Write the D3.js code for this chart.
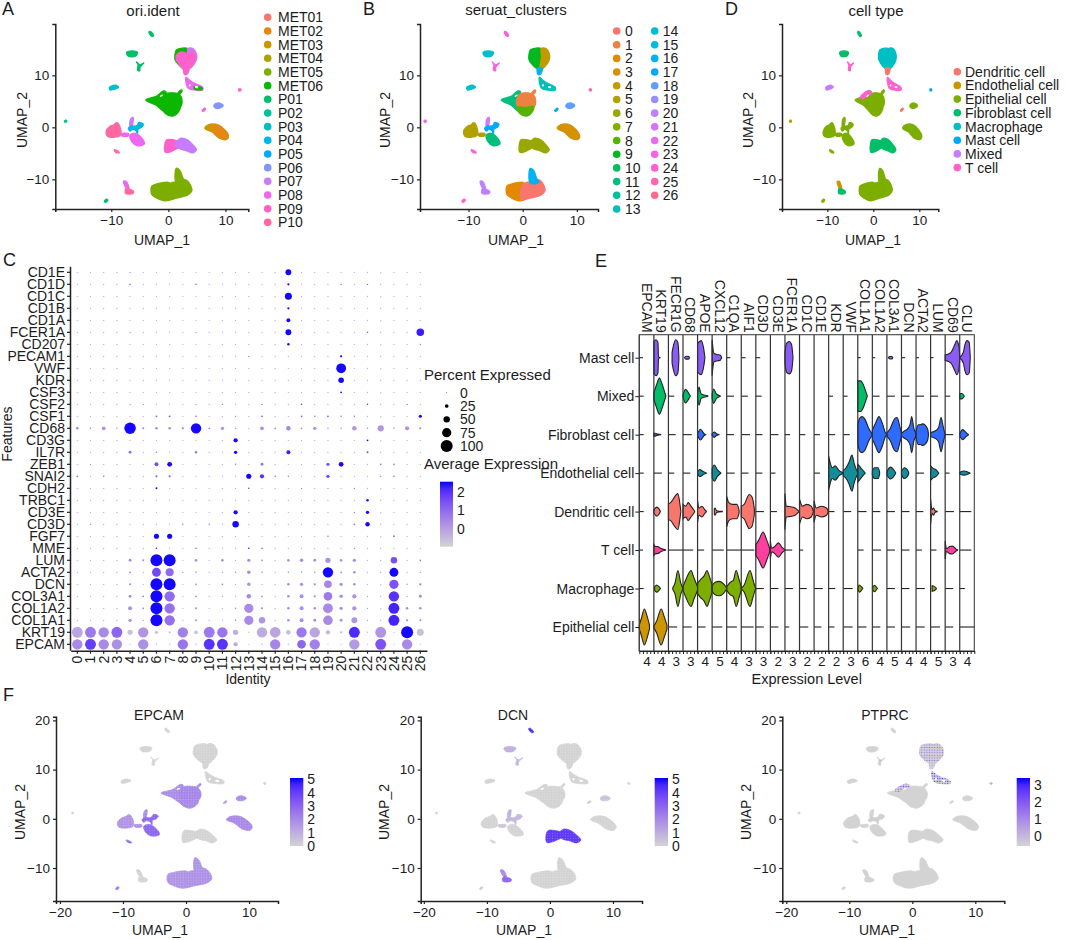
<!DOCTYPE html>
<html>
<head>
<meta charset="utf-8">
<script src="https://cdn.jsdelivr.net/npm/d3@7"></script>
<style>
body { margin: 0; background: #fff; }
svg text { font-family: "Liberation Sans", Arial, sans-serif; fill: #1c1c1c; }
.domain, .tick line { stroke: #222; }
</style>
</head>
<body>
<div id="vis"></div>
<script>
// legends
var oriIdents = ["MET01","MET02","MET03","MET04","MET05","MET06","P01","P02","P03","P04","P05","P06","P07","P08","P09","P10"];
var oriColours = ["#F8766D","#E68613","#CD9600","#ABA300","#7CAE00","#0CB702","#00BE67","#00C19A","#00BFC4","#00B8E7","#00A9FF","#8494FF","#C77CFF","#ED68ED","#FF61CC","#FF68A1"];
var clusterColours = ["#F8766D","#EE8042","#E38900","#D59100","#C49A00","#B0A100","#99A800","#7FAE00","#53B400","#00B81F","#00BD5F","#00BF7D","#00C19C","#00C0B8","#00BECF","#00BAE0","#00B2F3","#00A9FF","#619CFF","#9590FF","#BC81FF","#D575FE","#E76BF3","#F564E3","#FD61D1","#FF65B2","#FF6C91"];
var cellTypes = ["Dendritic cell","Endothelial cell","Epithelial cell","Fibroblast cell","Macrophage","Mast cell","Mixed","T cell"];
var cellTypeColours = ["#F8766D","#CD9600","#7CAE00","#00BE67","#00BFC4","#00A9FF","#C77CFF","#FF61CC"];

var islandOutlines = [
  [[1.16,13.9],[1.45,14.9],[3.4,15.1],[3.5,13.5],[3.3,11.2],[2.5,11.4],[1.6,12.3],[1.16,13.1]],
  [[3.4,15.1],[4.24,15.2],[4.94,14],[4.9,13],[4.36,12],[3.5,11.2],[3.2,11.4],[3.5,13.5]],
  [[1.4,13.8],[2.4,14.5],[3.3,14.2],[4.2,14.7],[4.75,13.6],[4.4,12.3],[3.4,11.1],[2.6,11.2],[1.8,12.3],[1.4,13]],
  [[2.75,11.4],[3.6,11.4],[3.25,10.2],[2.8,10.2]],
  [[3.1,9.6],[3.8,9],[4.5,8.5],[6,7.7],[6,7.2],[4.4,7.2],[3.5,7.5],[3.1,8.6]],
  [[4.5,7.8],[5.9,7.6],[5.9,7.3],[4.6,7.4]],
  [[-3.95,5.25],[-2.03,6],[-0.87,7],[-0.4,6.8],[-0.7,5.8],[-0.8,4.5],[-0.6,3],[-1.2,3.4],[-2.2,4.3]],
  [[1.7,6.6],[2.3,7.2],[2.4,7],[1.9,6.3]],
  [[-1.1,5.4],[-0.4,6.5],[0.9,6.6],[1.9,6.3],[2.4,5],[2,3.8],[0.2,3.4],[-0.9,3.9]],
  [[-1,3.9],[0.5,3.8],[2,4],[1.8,3],[0.9,2.2],[0,2.3],[-0.8,3]],
  [[-2.8,5.8],[-0.9,7.1],[-0.4,6.5],[-0.9,6.3],[-2.4,5.5]],
  [[8,4.3],[8.7,4.7],[9.6,4.2],[9,3.7],[8.1,3.8]],
  [[-10.9,-0.8],[-10.2,0.2],[-9.6,0.45],[-9,0.9],[-8.4,-0.2],[-8.4,-1.5],[-9.6,-1.9],[-10.7,-1.65]],
  [[-6.7,0.2],[-6.6,1.6],[-6.2,1.9],[-6.2,0.9],[-6.4,0.2]],
  [[-7,-0.2],[-6.4,0.3],[-6,0.2],[-5.4,0.4],[-5.2,0.9],[-4.4,0.6],[-4.7,0],[-5.3,-0.3],[-5.4,-1.2],[-5.7,-0.6],[-6.3,-0.4],[-6.7,-0.7]],
  [[-8.3,-1.3],[-7,-1.2],[-7,-1.6],[-8,-1.7]],
  [[-6.7,-1.5],[-5.8,-1.15],[-4.65,-2.1],[-4.2,-3.2],[-5.5,-3.5],[-6.4,-2.75]],
  [[-9.5,-4.3],[-8.8,-4.6],[-8.6,-4.9],[-9.2,-4.8]],
  [[-0.6,-3.2],[-0.3,-2.4],[0.9,-2.4],[1.7,-2.7],[2.1,-3.6],[1.1,-4.3],[0.3,-4.7],[-0.5,-4.8]],
  [[1.3,-3.2],[2.2,-2.1],[3.3,-2.4],[4.3,-3.4],[4.9,-4.3],[4.2,-4.9],[3.2,-4.5],[2,-4.1]],
  [[6.4,-0.2],[7,0.45],[8.7,0.45],[10.5,-1.5],[10.2,-2.3],[9,-2.1],[7.6,-0.85]],
  [[7.9,0.2],[8.7,0.3],[10.3,-1.5],[10,-2.1],[9,-1.9]],
  [[-2.9,-11.3],[-2,-10.9],[0,-10.6],[0.5,-11],[0.5,-13.7],[-0.6,-14.1],[-2,-13.6],[-2.9,-12.9]],
  [[-0.2,-11.6],[0.5,-10.7],[1.4,-10.5],[2.5,-10],[3.2,-10.2],[3.9,-11.2],[4.1,-12.2],[3.4,-13],[1.4,-13.6],[-0.2,-13.9]],
  [[1.4,-7.9],[2,-8.3],[2.6,-9.9],[3,-10.6],[1.4,-10.7]],
  [[-3.4,18.3],[-3.1,18.4],[-2.6,17.6],[-2.9,17.5]],
  [[-7.3,14.4],[-6.4,14.7],[-5.4,14.4],[-5.8,13.7],[-7,13.7]],
  [[-5.6,12.6],[-5,12],[-4.3,12.4],[-5,11.5],[-5,10.9],[-5.4,11],[-5.3,12]],
  [[-10.3,7.7],[-9.3,8.1],[-8.7,7.7],[-9.6,7.3],[-10.2,7.2]],
  [[12.3,7.3],[12.6,7.4],[12.7,7.1],[12.4,7]],
  [[5.9,3.2],[6.4,3.7],[6.5,3.5],[6.1,3.1]],
  [[-18.2,1.2],[-17.9,1.4],[-17.8,1.1],[-18.1,1]],
  [[-7.85,-10.4],[-7.4,-10.4],[-6.9,-11.8],[-7.3,-11.8]],
  [[-7.4,-11.8],[-6.1,-12.3],[-6.2,-12.7],[-7.5,-12.7]],
  [[-11.2,-14.2],[-10.8,-13.8],[-10.6,-14],[-11,-14.4]]
];
// gaps inside the islands
var islandHoles = [
  [[4.7,7.9],[5.2,7.85],[5.2,7.55],[4.7,7.6]],
  [[3.6,8.2],[3.9,8.25],[3.85,7.9],[3.6,7.9]],
  [[-1.5,6],[-1,6.3],[-0.95,6.1],[-1.4,5.85]]
];
// per island: sample, cluster, cell type (null = not drawn in that panel)
var islandOri = ["MET06","P07","P09","P09","P08","MET06","MET06","MET06","MET06","MET06",null,"P06","P10","P07","P04","P08","P08","P10","P09","P07","MET03","MET02","MET05","MET05","MET05","P01","P01","P01","P03","P09","P08","P02","P08","P10","P01"];
var islandCluster = [9,4,null,16,13,null,11,1,1,8,null,18,5,21,17,5,11,24,6,6,3,null,2,0,16,24,14,23,14,25,17,23,20,20,24];
var islandType = [4,4,null,0,7,null,2,2,2,2,7,2,2,2,2,2,2,2,3,3,2,null,2,2,2,3,3,7,6,5,0,1,1,3,2];
var islandEpcam = [0,0,null,0,0,null,1.9,1.9,2.1,2,null,2,1.7,1.9,3,1.9,3,2.8,0,0,2,null,1.7,1.8,1.7,0,0,0,0,0,1.5,0,0,0,2.5];
var islandDcn = [0,0,null,0,0,null,0,0,0,0,null,0.5,0,1,0.8,0.4,0,0,4.2,4.2,0,null,0,0,0,4.5,1,0.9,0,0,0.3,0,2,3,0.2];
var islandPtprc = [1.1,1.1,null,0.6,2,null,0,0,0,0,1.6,0,0,0,0.2,0,0,0,0,0,0,null,0,0,0,0,0,0.3,0,1.4,0,0,0,0,0];

// dot plot
var dotGenes = ["CD1E","CD1D","CD1C","CD1B","CD1A","FCER1A","CD207","PECAM1","VWF","KDR","CSF3","CSF2","CSF1","CD68","CD3G","IL7R","ZEB1","SNAI2","CDH2","TRBC1","CD3E","CD3D","FGF7","MME","LUM","ACTA2","DCN","COL3A1","COL1A2","COL1A1","KRT19","EPCAM"];
var dotClusters = d3.range(27).map(String);
// the faint specks everywhere else
var dotFaintPercent = 4;
var dotFaintExpression = 0;
// [cluster, percent expressed, average expression]
var dotReadings = [
  ["CD1E",[[4,3,1],[16,45,2.5]]],
  ["CD1D",[[4,6,1.5],[9,5,1.5],[16,12,2.5],[20,4,1.5],[22,4,1.5]]],
  ["CD1C",[[16,55,2.5]]],
  ["CD1B",[[16,12,2.5]]],
  ["CD1A",[[16,27,2.5]]],
  ["FCER1A",[[4,3,1],[9,3,1],[16,45,2.5],[22,5,1.5],[26,60,2.3]]],
  ["CD207",[[16,14,2.5],[26,3,1.5]]],
  ["PECAM1",[[13,4,1.2],[20,12,2.5]]],
  ["VWF",[[20,80,2.5]]],
  ["KDR",[[20,42,2.5]]],
  ["CSF3",[[20,8,2.5]]],
  ["CSF2",[[4,3,1],[5,3,1],[9,3,1],[11,4,1],[14,4,1.5],[17,5,2],[22,5,2],[25,4,1.5]]],
  ["CSF1",[[6,8,1.2],[7,8,1.5],[9,5,1.5],[12,4,1],[14,8,1.3],[17,8,1.2],[18,5,1],[19,8,1.3],[20,5,1],[21,5,1],[26,20,2.5]]],
  ["CD68",[[0,14,0.6],[1,5,0.7],[2,25,0.3],[3,5,0.5],[4,95,2.5],[5,10,0.5],[6,15,0.4],[7,15,0.4],[8,12,0.5],[9,85,2.5],[10,8,0.5],[11,22,0.3],[12,4,0.5],[14,25,0.3],[15,8,0.5],[16,32,0.5],[17,8,0.5],[18,22,0.3],[19,5,0.5],[20,5,0.5],[21,32,0.2],[22,5,0.5],[23,48,0.2],[24,5,0.5],[25,30,0.2],[26,12,0.3]]],
  ["CD3G",[[12,30,2.5],[22,8,2.5]]],
  ["IL7R",[[4,18,0.9],[6,5,0.9],[9,14,0.8],[12,22,2.5],[16,28,2.3],[22,10,1.5]]],
  ["ZEB1",[[1,3,0.5],[6,27,1.6],[7,35,2.5],[12,5,0.8],[14,18,0.8],[19,22,1.3],[20,35,2.5],[23,8,0.8],[24,7,0.8]]],
  ["SNAI2",[[0,8,1],[2,6,1],[6,12,1],[7,12,1],[13,38,2.5],[14,30,2],[15,6,1],[16,5,0.8],[19,22,1.6],[23,4,0.8],[24,6,1.3]]],
  ["CDH2",[[6,9,2.5],[13,5,2],[17,3,1],[19,4,1],[21,4,1]]],
  ["TRBC1",[[22,14,2.5]]],
  ["CD3E",[[12,30,2.5],[21,4,1],[22,22,2.5]]],
  ["CD3D",[[1,4,0.8],[8,5,0.8],[10,5,0.8],[12,50,2.5],[21,8,1],[22,32,2.5]]],
  ["FGF7",[[6,38,2.5],[7,38,2.5],[19,6,1],[24,10,1]]],
  ["MME",[[6,5,2.5],[9,5,1.5],[13,5,2.5],[14,5,1.8],[21,3,1]]],
  ["LUM",[[4,18,0.4],[5,10,0.5],[6,100,2.5],[7,100,2.5],[9,16,0.4],[11,14,0.5],[13,20,0.4],[14,8,0.5],[16,16,0.3],[17,24,0.3],[18,18,0.3],[19,40,0.3],[20,16,0.3],[21,22,0.3],[23,4,0.5],[24,50,1.5],[25,3,0.5],[26,7,0.8]]],
  ["ACTA2",[[4,8,0.7],[6,72,1.6],[7,65,1],[8,4,0.5],[9,5,0.5],[11,4,0.5],[12,5,0.5],[13,24,0.4],[14,6,0.5],[16,5,0.5],[17,5,0.5],[18,5,0.5],[19,85,2.5],[20,8,0.5],[21,14,0.5],[23,3,0.5],[24,72,2.5],[26,3,0.5]]],
  ["DCN",[[4,9,0.7],[6,100,2.5],[7,100,2.5],[9,7,0.6],[11,8,0.6],[13,24,0.3],[14,3,0.5],[16,14,0.5],[17,22,0.3],[18,12,0.5],[19,60,0.5],[20,22,0.3],[21,14,0.4],[24,75,1.4],[25,5,0.5],[26,12,0.7]]],
  ["COL3A1",[[4,16,0.6],[5,7,0.8],[6,100,2.5],[7,85,1],[9,7,0.6],[11,4,0.5],[13,32,0.4],[14,8,0.6],[16,14,0.5],[17,28,0.3],[18,12,0.4],[19,70,0.7],[20,24,0.3],[21,30,0.3],[22,3,0.5],[24,85,2],[25,4,0.5],[26,18,0.5]]],
  ["COL1A2",[[4,28,0.3],[5,7,0.8],[6,100,2.5],[7,85,0.9],[9,9,0.6],[12,5,0.6],[13,75,0.4],[14,10,0.6],[16,14,0.5],[17,28,0.3],[18,14,0.4],[19,80,0.4],[20,22,0.3],[21,30,0.3],[22,4,0.5],[24,90,2.2],[25,14,0.5],[26,14,0.5]]],
  ["COL1A1",[[4,22,0.3],[5,3,0.6],[6,100,2.5],[7,85,0.9],[9,9,0.6],[12,5,0.6],[13,75,0.4],[14,50,0.2],[16,14,0.5],[17,28,0.3],[18,18,0.4],[19,78,0.4],[20,18,0.3],[21,45,0.2],[22,3,0.5],[24,90,2.2],[25,12,0.4],[26,10,0.4]]],
  ["KRT19",[[0,90,-0.1],[1,90,0.7],[2,85,0.4],[3,90,1.1],[4,38,-0.6],[5,85,0.2],[6,22,-0.7],[7,12,-0.6],[8,85,0.6],[9,25,-0.6],[10,90,0.7],[11,85,0.8],[12,40,-0.3],[13,5,-0.5],[14,85,-0.2],[15,88,-0.1],[16,35,-0.6],[17,85,0.7],[18,85,-0.1],[19,30,-0.4],[20,12,-0.3],[21,90,2.1],[22,6,-0.3],[23,90,0.2],[24,3,-0.3],[25,100,2.5],[26,55,-0.6]]],
  ["EPCAM",[[0,85,0.4],[1,90,1.8],[2,85,0.4],[3,85,0.3],[4,2,-0.3],[5,85,0.3],[6,5,-0.4],[7,4,-0.4],[8,85,0.8],[9,5,-0.4],[10,90,2],[11,90,2],[12,30,-0.2],[13,1,-0.3],[14,5,-0.3],[15,85,0.5],[16,5,-0.4],[17,70,1.1],[18,85,0.6],[19,2,-0.3],[20,3,-0.3],[21,85,0.1],[22,1,-0.3],[23,90,1.4],[24,2,-0.3],[25,85,0.4],[26,2,-0.3]]]
];
var percentLegend = [0,25,50,75,100];

// stacked violins
var violinRows = ["Mast cell","Mixed","Fibroblast cell","Endothelial cell","Dendritic cell","T cell","Macrophage","Epithelial cell"];
var violinRowColours = ["#8A5CF5","#00BE67","#2F6BFF","#138D9A","#F8766D","#FF3FA0","#7CAE00","#CD9600"];
var violinGenes = ["EPCAM","KRT19","FECR1G","CD68","APOE","CXCL12","C1QA","AIF1","CD3D","CD3E","FCER1A","CD1C","CD1E","KDR","VWF","COL1A1","COL1A2","COL3A1","DCN","ACTA2","LUM","CD69","CLU"];
var violinMaxLevel = [4,4,3,3,4,5,4,3,3,2,3,2,2,2,3,6,4,5,4,4,5,3,4];
// how far the flat zero line runs in each empty cell, as share of the column
var violinTails = [
  [.25,0,0,.25,0,0,.25,.3,.3,0,0,0,0,0,0,.2,.2,.3,.25,.2,.2,0,0],
  [.3,0,.4,0,0,0,.5,.45,.4,0,0,0,0,.3,.3,0,.5,.55,.55,.55,.5,.35,0],
  [.3,0,.5,.6,0,0,.5,.6,.45,.55,.35,.4,.4,.45,.45,0,0,0,0,0,0,.55,0],
  [.3,.55,.4,.5,0,0,.55,.5,.45,.35,0,0,.4,0,0,0,0,0,0,.55,0,.3,0],
  [.3,0,0,0,0,0,0,0,.55,.45,0,0,0,.4,.55,.6,.55,.55,.55,.5,0,.6,.8],
  [.25,0,1,.7,.45,.8,1,.9,0,0,.5,.25,0,0,0,.4,.6,.55,.55,.4,.4,0,.8],
  [.3,0,0,0,0,0,0,0,.55,.55,.55,.5,.6,.45,.65,0,0,.55,.55,.6,0,.55,.35],
  [0,0,.6,.6,.55,.7,.7,.85,.55,.55,.3,.6,.5,.4,.65,.6,.55,.55,.6,.6,.65,.55,1]
];
// [row, column gene, [[share of column, density], ...]]
var violinCells = [
  ["Mast cell","KRT19",[[0,.9],[.15,1],[.28,.85],[.32,.05],[.45,0]]],
  ["Mast cell","FECR1G",[[.25,.3],[.35,.7],[.5,1],[.65,.85],[.72,.05]]],
  ["Mast cell","CD68",[[.1,0],[.2,.08],[.38,.08],[.45,0]]],
  ["Mast cell","APOE",[[0,.8],[.25,.95],[.42,.5],[.5,.05]]],
  ["Mast cell","CXCL12",[[0,1],[.12,.25],[.3,.18],[.55,.15],[.65,.02]]],
  ["Mast cell","FCER1A",[[0,.3],[.1,.8],[.3,.9],[.45,.75],[.55,.05]]],
  ["Mast cell","COL3A1",[[.1,0],[.2,.07],[.35,.07],[.4,0]]],
  ["Mast cell","CD69",[[0,.15],[.4,.3],[.65,.7],[.8,.95],[.95,.6],[1,.05]]],
  ["Mast cell","CLU",[[0,.02],[.25,.3],[.35,.7],[.5,.95],[.65,.85],[.72,.05]]],
  ["Mixed","KRT19",[[0,.2],[.15,.55],[.38,1],[.55,.7],[.75,.2],[.82,.02]]],
  ["Mixed","CD68",[[0,.05],[.17,.38],[.4,.15],[.5,.01]]],
  ["Mixed","APOE",[[0,.1],[.1,.5],[.25,.12],[.7,.02]]],
  ["Mixed","CXCL12",[[0,.1],[.1,.4],[.3,.12],[.55,.02]]],
  ["Mixed","COL1A1",[[0,.85],[.2,.85],[.4,.6],[.55,.25],[.65,.02]]],
  ["Mixed","CLU",[[0,.15],[.15,.15],[.3,.02]]],
  ["Fibroblast cell","KRT19",[[0,.08],[.1,.08],[.25,.03],[.5,0]]],
  ["Fibroblast cell","APOE",[[0,.05],[.2,.3],[.45,.05],[.55,0]]],
  ["Fibroblast cell","CXCL12",[[0,.05],[.15,.15],[.3,.05],[.5,0]]],
  ["Fibroblast cell","COL1A1",[[0,.5],[.12,.9],[.3,1],[.5,.85],[.75,.35],[.95,.08],[1,.02]]],
  ["Fibroblast cell","COL1A2",[[0,.25],[.2,.6],[.45,1],[.7,.6],[.9,.1],[1,.02]]],
  ["Fibroblast cell","COL3A1",[[0,.1],[.2,.3],[.55,.9],[.7,.95],[.9,.4],[1,.1]]],
  ["Fibroblast cell","DCN",[[0,.08],[.2,.2],[.45,.35],[.6,.6],[.7,1],[.85,.35],[1,.1]]],
  ["Fibroblast cell","ACTA2",[[0,.2],[.15,.55],[.3,.55],[.45,.6],[.6,.55],[.8,.3],[.85,.05]]],
  ["Fibroblast cell","LUM",[[0,.12],[.3,.2],[.55,.4],[.72,.95],[.85,.5],[.97,.1],[1,.02]]],
  ["Fibroblast cell","CLU",[[0,.05],[.2,.28],[.45,.1],[.6,.01]]],
  ["Endothelial cell","APOE",[[0,.05],[.15,.2],[.35,.1],[.6,.01]]],
  ["Endothelial cell","CXCL12",[[0,.25],[.15,.45],[.35,.2],[.6,.01]]],
  ["Endothelial cell","KDR",[[0,.95],[.1,.6],[.25,.3],[.45,.4],[.7,.15],[.95,.03]]],
  ["Endothelial cell","VWF",[[0,.15],[.2,.3],[.4,.6],[.6,1],[.75,.55],[.9,.2],[1,.05]]],
  ["Endothelial cell","COL1A1",[[0,.5],[.1,.4],[.3,.2],[.5,.02]]],
  ["Endothelial cell","COL1A2",[[0,.1],[.15,.3],[.4,.3],[.5,.05]]],
  ["Endothelial cell","COL3A1",[[0,.1],[.25,.33],[.45,.2],[.6,.02]]],
  ["Endothelial cell","DCN",[[0,.1],[.2,.3],[.4,.2],[.5,.02]]],
  ["Endothelial cell","LUM",[[0,.4],[.2,.25],[.35,.2],[.55,.02]]],
  ["Endothelial cell","CLU",[[0,.05],[.3,.12],[.7,.01]]],
  ["Dendritic cell","KRT19",[[0,.08],[.2,.25],[.35,.15],[.45,0]]],
  ["Dendritic cell","FECR1G",[[0,.45],[.15,.5],[.45,.85],[.65,1],[.8,.35],[.85,.02]]],
  ["Dendritic cell","CD68",[[0,.4],[.2,.3],[.35,.5],[.55,.3],[.8,.02]]],
  ["Dendritic cell","APOE",[[0,.6],[.1,.2],[.3,.3],[.5,.1],[.6,.02]]],
  ["Dendritic cell","CXCL12",[[.15,.15],[.2,.2],[.3,.05],[.7,.01]]],
  ["Dendritic cell","C1QA",[[0,.85],[.15,.5],[.4,.4],[.7,.4],[.85,.08]]],
  ["Dendritic cell","AIF1",[[0,.3],[.2,.4],[.55,.95],[.75,.8],[.9,.15]]],
  ["Dendritic cell","FCER1A",[[0,1],[.1,.3],[.3,.28],[.7,.2],[.95,.02]]],
  ["Dendritic cell","CD1C",[[0,.7],[.2,.3],[.5,.4],[.8,.3],[.95,.02]]],
  ["Dendritic cell","CD1E",[[0,.6],[.15,.2],[.5,.3],[.85,.2],[.97,.02]]],
  ["Dendritic cell","LUM",[[0,.7],[.1,.1],[.2,.2],[.3,.05],[.45,.01]]],
  ["T cell","KRT19",[[0,.3],[.12,.2],[.25,.2],[.5,.08],[.8,.01]]],
  ["T cell","CD3D",[[0,.3],[.2,.55],[.5,1],[.75,.55],[.95,.1]]],
  ["T cell","CD3E",[[0,.5],[.1,.1],[.3,.2],[.55,.4],[.8,.15],[1,.02]]],
  ["T cell","CD69",[[0,.5],[.1,.08],[.3,.2],[.5,.22],[.75,.05],[.85,.01]]],
  ["Macrophage","KRT19",[[.05,.1],[.2,.2],[.35,.1],[.45,0]]],
  ["Macrophage","FECR1G",[[.3,.05],[.45,.3],[.65,1],[.85,.3],[1,.02]]],
  ["Macrophage","CD68",[[0,.1],[.2,.5],[.55,1],[.75,.6],[1,.1]]],
  ["Macrophage","APOE",[[0,.3],[.2,.5],[.45,.7],[.65,1],[.8,.7],[1,.2]]],
  ["Macrophage","CXCL12",[[0,.15],[.2,.35],[.5,.4],[.8,.25],[1,.03]]],
  ["Macrophage","C1QA",[[0,.1],[.25,.35],[.45,.45],[.65,1],[.85,.5],[1,.1]]],
  ["Macrophage","AIF1",[[0,.02],[.2,.2],[.6,1],[.8,.5],[.95,.1],[1,.02]]],
  ["Macrophage","COL1A1",[[0,.01],[.1,.2],[.25,.1],[.35,0]]],
  ["Macrophage","COL1A2",[[0,.01],[.15,.18],[.25,.1],[.35,0]]],
  ["Macrophage","LUM",[[.1,.15],[.25,.12],[.4,.01]]],
  ["Epithelial cell","EPCAM",[[0,.1],[.15,.5],[.35,1],[.5,.7],[.7,.1]]],
  ["Epithelial cell","KRT19",[[0,.05],[.2,.35],[.5,1],[.7,.6],[.9,.1]]]
];

var width = 1065;
var height = 940;

var svg = d3.select('#vis').append('svg')
    .attr('width', width)
    .attr('height', height);
var defs = svg.append('defs');

// panel letters
[["A",2,15],["B",363,15],["D",725,15],["C",3,266],["E",595,267],["F",3,701]].forEach(function(p) {
    svg.append('text').attr('x', p[1]).attr('y', p[2]).style('font-size', '18px').text(p[0]);
});

function label(x, y, txt, size, anchor, rotate) {
    var t = svg.append('text')
        .attr('text-anchor', anchor || 'middle')
        .style('font-size', size + 'px')
        .text(txt);
    if (rotate) t.attr('transform', 'translate(' + x + ',' + y + ') rotate(' + rotate + ')');
    else t.attr('x', x).attr('y', y);
    return t;
}

function styleAxis(g, size) {
    g.selectAll('.domain').attr('stroke-width', 1.5);
    g.selectAll('.tick line').attr('stroke-width', 1.2);
    g.selectAll('text').style('font-size', size + 'px');
    return g;
}

var islandLine = d3.line().curve(d3.curveCatmullRomClosed.alpha(0.5));

// one UMAP panel with axes; fillOf gives the colour of island i, or null
function umapPanel(p, fillOf) {
    var x = d3.scaleLinear().domain(p.xDomain).range(p.xRange);
    var y = d3.scaleLinear().domain(p.yDomain).range(p.yRange);
    var line = islandLine.x(function(d) { return x(d[0]); }).y(function(d) { return y(d[1]); });

    svg.append('g').selectAll('path')
        .data(islandOutlines.map(function(o, i) { return {outline: o, fill: fillOf(i)}; })
            .filter(function(d) { return d.fill !== null; }))
        .enter().append('path')
        .attr('d', function(d) { return line(d.outline); })
        .attr('fill', function(d) { return d.fill; })
        .attr('stroke', function(d) { return d.fill; })
        .attr('stroke-width', p.edgeWidth)
        .attr('stroke-linejoin', 'round');

    svg.append('g').selectAll('path')
        .data(islandHoles)
        .enter().append('path')
        .attr('d', function(d) { return line(d); })
        .attr('fill', '#fff');

    styleAxis(svg.append('g')
        .attr('transform', 'translate(0,' + p.yRange[0] + ')')
        .call(d3.axisBottom(x).tickValues(p.xTicks).tickSizeOuter(0).tickSize(3).tickPadding(3).tickFormat(d3.format('d'))), 13.5);
    styleAxis(svg.append('g')
        .attr('transform', 'translate(' + p.xRange[0] + ',0)')
        .call(d3.axisLeft(y).tickValues(p.yTicks).tickSizeOuter(0).tickSize(3).tickPadding(3).tickFormat(d3.format('d'))), 13.5);

    label(p.titleX, p.titleY, p.title, p.titleSize);
    label(p.xLabelX, p.xLabelY, 'UMAP_1', 14);
    label(p.yLabelX, p.yLabelY, 'UMAP_2', 14, 'middle', -90);
}

var topY = {yDomain: [-15.7, 19.87], yRange: [209, 24], xTicks: [-10, 0, 10], yTicks: [-10, 0, 10], edgeWidth: 1.4, titleSize: 15};

umapPanel(Object.assign({xDomain: [-19.8, 14], xRange: [55.3, 248.3], title: 'ori.ident', titleX: 153, titleY: 16,
        xLabelX: 162, xLabelY: 245, yLabelX: 27, yLabelY: 120}, topY),
    function(i) { return islandOri[i] === null ? null : oriColours[oriIdents.indexOf(islandOri[i])]; });
umapPanel(Object.assign({xDomain: [-18.95, 13.9], xRange: [420, 598], title: 'seruat_clusters', titleX: 516, titleY: 15,
        xLabelX: 516, xLabelY: 245, yLabelX: 390, yLabelY: 120}, topY),
    function(i) { return islandCluster[i] === null ? null : clusterColours[islandCluster[i]]; });
umapPanel(Object.assign({xDomain: [-19.85, 14.13], xRange: [782, 938.3], title: 'cell type', titleX: 876, titleY: 16,
        xLabelX: 873, xLabelY: 245, yLabelX: 753, yLabelY: 120}, topY),
    function(i) { return islandType[i] === null ? null : cellTypeColours[islandType[i]]; });

// legends of the three top panels
function pointLegend(items, colours, cx, tx, y0, step) {
    var g = svg.append('g').selectAll('g').data(items).enter().append('g');
    g.append('circle')
        .attr('cx', cx)
        .attr('cy', function(d, i) { return y0 + i * step; })
        .attr('r', 3.8)
        .attr('fill', function(d, i) { return colours[i]; });
    g.append('text')
        .attr('x', tx)
        .attr('y', function(d, i) { return y0 + i * step + 5; })
        .style('font-size', '14px')
        .text(function(d) { return d; });
}
pointLegend(oriIdents, oriColours, 267.7, 278, 17.3, 13.67);
pointLegend(dotClusters.slice(0, 14), clusterColours.slice(0, 14), 616.7, 625, 31, 13.69);
pointLegend(dotClusters.slice(14), clusterColours.slice(14), 654.7, 662.7, 31, 13.69);
pointLegend(cellTypes, cellTypeColours, 957.3, 965, 71.7, 13.7);

// dot plot
var dotData = [];
dotGenes.forEach(function(g) {
    var read = dotReadings.filter(function(r) { return r[0] === g; })[0];
    dotClusters.forEach(function(c, i) {
        var hit = read[1].filter(function(h) { return h[0] === i; })[0];
        dotData.push({gene: g, cluster: c,
            pct: hit ? hit[1] : dotFaintPercent,
            exp: hit ? hit[2] : dotFaintExpression});
    });
});

var dotX = d3.scaleBand().domain(dotClusters).range([70.7, 426.9]);
var dotY = d3.scaleBand().domain(dotGenes).range([266.3, 650.3]);
var dotR = d3.scaleLinear().domain([0, 100]).range([0.45, 6]);
var greyBlue = d3.interpolateLab('lightgrey', 'blue');
var dotColour = d3.scaleSequential(greyBlue).domain([-0.95, 2.54]).clamp(true);

svg.append('g').selectAll('circle')
    .data(dotData)
    .enter().append('circle')
    .attr('cx', function(d) { return dotX(d.cluster) + dotX.bandwidth() / 2; })
    .attr('cy', function(d) { return dotY(d.gene) + dotY.bandwidth() / 2; })
    .attr('r', function(d) { return dotR(d.pct); })
    .attr('fill', function(d) { return dotColour(d.exp); });

styleAxis(svg.append('g')
    .attr('transform', 'translate(70,0)')
    .call(d3.axisLeft(dotY).tickSize(3).tickPadding(2).tickSizeOuter(0)), 14);
var dotXAxis = styleAxis(svg.append('g')
    .attr('transform', 'translate(0,650.7)')
    .call(d3.axisBottom(dotX).tickSize(3).tickSizeOuter(0)), 14);
dotXAxis.selectAll('text')
    .attr('transform', 'rotate(-90)')
    .attr('text-anchor', 'end')
    .attr('x', -5).attr('y', 0).attr('dy', '0.35em');

label(12, 434, 'Features', 14, 'middle', -90);
label(248, 684, 'Identity', 14);

// dot legend
label(424, 380, 'Percent Expressed', 15, 'start');
var legendDotY = d3.scalePoint().domain(percentLegend).range([392.7, 446]);
var legendDots = svg.append('g').selectAll('g').data(percentLegend).enter().append('g');
legendDots.append('circle')
    .attr('cx', 446.7)
    .attr('cy', function(d) { return legendDotY(d); })
    .attr('r', function(d) { return dotR(d); })
    .attr('fill', '#000');
legendDots.append('text')
    .attr('x', 460)
    .attr('y', function(d) { return legendDotY(d) + 5; })
    .style('font-size', '14px')
    .text(function(d) { return d; });
label(424, 469, 'Average Expression', 15, 'start');

function colourBar(id, x, w, domain, yRange, ticks, colour) {
    var grad = defs.append('linearGradient').attr('id', id)
        .attr('x1', 0).attr('y1', 1).attr('x2', 0).attr('y2', 0);
    d3.range(0, 1.01, 0.1).forEach(function(t) {
        grad.append('stop').attr('offset', t).attr('stop-color', colour(t));
    });
    svg.append('rect').attr('x', x).attr('y', yRange[1]).attr('width', w)
        .attr('height', yRange[0] - yRange[1]).attr('fill', 'url(#' + id + ')');
    var s = d3.scaleLinear().domain(domain).range(yRange);
    var g = svg.append('g').attr('transform', 'translate(' + (x + w) + ',0)')
        .call(d3.axisRight(s).tickValues(ticks).tickSize(0).tickPadding(4).tickFormat(d3.format('d')));
    g.select('.domain').remove();
    g.selectAll('text').style('font-size', '14px');
}
colourBar('barDot', 440, 13, [-0.95, 2.54], [546.7, 481.7], [0, 1, 2], greyBlue);

// stacked violins
var frameLeft = 639.3, frameRight = 974.3, frameTop = 334.7, frameBottom = 651;
var colBand = d3.scaleBand().domain(violinGenes).range([frameLeft, frameRight]);
var rowCentre = d3.scalePoint().domain(violinRows).range([357.7, 627]);

var violinG = svg.append('g');
var zeroLine = d3.line();

violinRows.forEach(function(rowName, r) {
    var cy = rowCentre(rowName);
    var yScale = d3.scaleLinear().domain([-1, 1]).range([cy + 18, cy - 18]);
    violinGenes.forEach(function(gene, c) {
        var cell = violinCells.filter(function(v) { return v[0] === rowName && v[1] === gene; })[0];
        var xScale = d3.scaleLinear().domain([0, 1]).range([colBand(gene), colBand(gene) + colBand.bandwidth()]);
        if (cell) {
            var area = d3.area()
                .curve(d3.curveMonotoneX)
                .x(function(d) { return xScale(d[0]); })
                .y0(function(d) { return yScale(-d[1]); })
                .y1(function(d) { return yScale(d[1]); });
            violinG.append('path').datum(cell[2])
                .attr('d', area)
                .attr('fill', violinRowColours[r])
                .attr('stroke', '#222')
                .attr('stroke-width', 1.1);
        } else if (violinTails[r][c] > 0) {
            violinG.append('path')
                .attr('d', zeroLine([[xScale(0), yScale(0)], [xScale(violinTails[r][c]), yScale(0)]]))
                .attr('stroke', '#222')
                .attr('stroke-width', 1.1);
        }
    });
});

// column rules and frame
svg.append('g').selectAll('line')
    .data(violinGenes)
    .enter().append('line')
    .attr('x1', function(d) { return colBand(d); })
    .attr('x2', function(d) { return colBand(d); })
    .attr('y1', frameTop).attr('y2', frameBottom)
    .attr('stroke', '#333').attr('stroke-width', 1.2);
svg.append('rect')
    .attr('x', frameLeft).attr('y', frameTop)
    .attr('width', frameRight - frameLeft).attr('height', frameBottom - frameTop)
    .attr('fill', 'none').attr('stroke', '#444').attr('stroke-width', 1.1);

var rowAxis = svg.append('g').attr('transform', 'translate(' + frameLeft + ',0)')
    .call(d3.axisLeft(rowCentre).tickSize(4).tickPadding(1));
rowAxis.select('.domain').remove();
rowAxis.selectAll('text').style('font-size', '14px');

var geneAxis = svg.append('g').attr('transform', 'translate(0,' + frameTop + ')')
    .call(d3.axisTop(colBand).tickSize(0));
geneAxis.select('.domain').remove();
geneAxis.selectAll('text')
    .style('font-size', '14px')
    .attr('transform', 'rotate(90)')
    .attr('text-anchor', 'end')
    .attr('x', -2).attr('y', 0).attr('dy', '0.35em');

// each column has its own expression axis; the tick in the middle carries the max
violinGenes.forEach(function(gene, c) {
    var m = violinMaxLevel[c];
    var s = d3.scaleLinear().domain([0, m]).range([colBand(gene), colBand(gene) + colBand.bandwidth()]);
    var g = svg.append('g').attr('transform', 'translate(0,' + frameBottom + ')')
        .call(d3.axisBottom(s)
            .tickValues(d3.range(5).map(function(k) { return k * m / 4; }))
            .tickSize(3).tickSizeOuter(0).tickPadding(2)
            .tickFormat(function(d, i) { return i === 2 ? m : ''; }));
    g.selectAll('.tick line').attr('stroke-width', 1);
    g.selectAll('text').style('font-size', '13.5px');
});
label(806.7, 684, 'Expression Level', 14.5);

// feature plots, island fill keeps the speckle of the single cells
function speckle(id, base, dot, r) {
    var pat = defs.append('pattern').attr('id', id)
        .attr('patternUnits', 'userSpaceOnUse').attr('width', 2.6).attr('height', 2.6);
    pat.append('rect').attr('width', 2.6).attr('height', 2.6).attr('fill', base);
    pat.append('circle').attr('cx', 1.3).attr('cy', 1.3).attr('r', r).attr('fill', dot);
    return 'url(#' + id + ')';
}

var bottomY = {yDomain: [-16.7, 20.75], yRange: [901, 716.7], xTicks: [-20, -10, 0, 10], yTicks: [-10, 0, 10, 20], edgeWidth: 0.8, titleSize: 14};
var featureName = ["EPCAM", "DCN", "PTPRC"];
var featureValues = [islandEpcam, islandDcn, islandPtprc];
var featureMax = [5.1, 5.1, 3.4];
var featureBars = [
    {x: 290, domain: [0, 5.1], ticks: [0, 1, 2, 3, 4, 5]},
    {x: 654.7, domain: [0, 5.1], ticks: [0, 1, 2, 3, 4, 5]},
    {x: 1016.7, domain: [-0.6, 3.4], ticks: [0, 1, 2, 3]}
];
var featureFrames = [
    {xDomain: [-20.63, 14.6], xRange: [56, 278], titleX: 159, xLabelX: 160, yLabelX: 25},
    {xDomain: [-20.5, 14.6], xRange: [420.7, 642], titleX: 513, xLabelX: 524, yLabelX: 389},
    {xDomain: [-20.63, 14.6], xRange: [782.3, 1004.3], titleX: 885, xLabelX: 887, yLabelX: 751}
];
featureFrames.forEach(function(f, k) {
    var colour = d3.scaleSequential(greyBlue).domain([0, featureMax[k]]).clamp(true);
    umapPanel(Object.assign({title: featureName[k], titleY: 720, xLabelY: 935, yLabelY: 812}, f, bottomY),
        function(i) {
            var v = featureValues[k][i];
            if (v === null) return null;
            var id = 'sp' + k + '_' + i;
            // PTPRC cells are a sparse scatter of purple over grey
            if (k === 2) return speckle(id, 'lightgrey', colour(v * 1.6), v > 0 ? 0.7 : 0.6);
            return speckle(id, colour(v), d3.interpolateRgb(colour(v), '#fff')(0.3), 0.6);
        });
    colourBar('bar' + k, featureBars[k].x, 13.3, featureBars[k].domain, [846, 778], featureBars[k].ticks, greyBlue);
});
</script>
</body>
</html>
